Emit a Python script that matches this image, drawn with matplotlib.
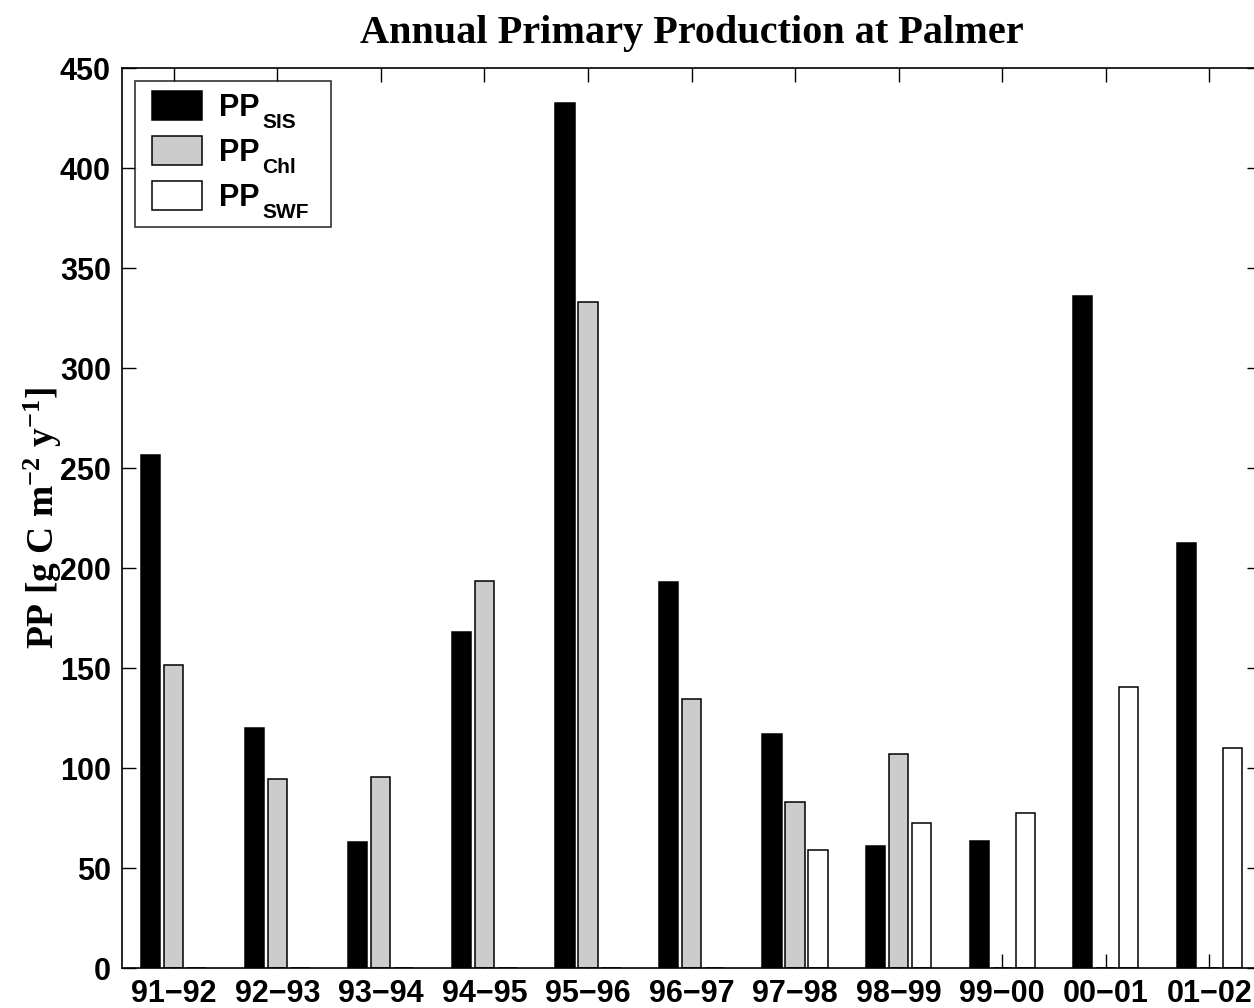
import matplotlib
matplotlib.use("Agg")
import matplotlib.pyplot as plt
from matplotlib.font_manager import FontProperties
from matplotlib.offsetbox import DrawingArea
from matplotlib.text import Text
import numpy as np

plt.rcParams['mathtext.fontset'] = 'custom'
plt.rcParams['mathtext.rm'] = 'Liberation Serif:bold'
plt.rcParams['mathtext.bf'] = 'Liberation Serif:bold'
plt.rcParams['mathtext.it'] = 'Liberation Serif:bold'

seasons = ["91\u221292", "92\u221293", "93\u221294", "94\u221295", "95\u221296", "96\u221297",
           "97\u221298", "98\u221299", "99\u221200", "00\u221201", "01\u221202"]
pp_sis = [256.7, 120, 62.8, 167.8, 432.7, 192.8, 116.8, 61, 63.5, 336, 212.3]
pp_chl = [151.5, 94.5, 95.5, 193.7, 332.8, 134.7, 83.2, 106.8, 0, 0, 0]
pp_swf = [0, 0, 0, 0, 0, 0, 59, 72.3, 77.7, 140.5, 110]
series_main = ["PP", "PP", "PP"]
series_sub = ["SIS", "Chl", "SWF"]
yticks = [0, 50, 100, 150, 200, 250, 300, 350, 400, 450]

W, H = 1254, 1008
fig = plt.figure(figsize=(W / 100, H / 100), dpi=100)
ax = fig.add_axes([122 / W, (H - 968) / H, (1261 - 122) / W, 900 / H])

x = np.arange(1, len(seasons) + 1)
off = 0.222
bw = 0.185
colors = ['black', '#cccccc', 'white']
for i, (vals, c, lab) in enumerate(zip([pp_sis, pp_chl, pp_swf], colors, series_main)):
    ax.bar(x + (i - 1) * off, vals, width=bw, color=c, edgecolor='black', linewidth=1.1,
           label=lab, zorder=2)

ax.set_xlim(0.5, len(seasons) + 0.5)
ax.set_ylim(0, 450)
ax.set_xticks(x)
ax.set_xticklabels(seasons)
ax.set_yticks(yticks)
ax.tick_params(direction='in', length=10, width=1, top=True, right=True, labelsize=22, pad=8)
for lab in ax.get_xticklabels() + ax.get_yticklabels():
    lab.set_fontfamily('Liberation Sans')
    lab.set_fontweight('bold')
for s in ax.spines.values():
    s.set_linewidth(1.2)

ax.set_title('Annual Primary Production at Palmer', fontfamily='Liberation Serif', fontweight='bold',
             fontsize=29, pad=18)
ax.set_ylabel(r'PP [g C m$^{-2}$ y$^{-1}$]', fontfamily='Liberation Serif', fontweight='bold',
              fontsize=27)
ax.yaxis.set_label_coords(-0.0505, 0.5)

leg_fs = 22
textpad = 0.55
leg_fp = FontProperties(family='Liberation Sans', weight='bold', size=leg_fs)
sub_fp = FontProperties(family='Liberation Sans', weight='bold', size=15)
leg = ax.legend(loc='upper left', prop=leg_fp, frameon=True, fancybox=False, edgecolor='black',
                handlelength=1.65, handleheight=1.08, borderpad=0.33, labelspacing=0.30,
                handletextpad=textpad, borderaxespad=0.42)
leg.get_frame().set_linewidth(1.2)

# subscripts attached to each legend entry (packed inside the legend box)
sep_pt = textpad * leg_fs
shift_pt = 5
items = [it for col in leg._legend_handle_box.get_children() for it in col.get_children()]
for item, sub in zip(items, series_sub):
    hbox = item.get_children()[0]
    hbox.width += shift_pt
    for a in hbox.get_children():
        if hasattr(a, 'set_x'):
            a.set_x(a.get_x() + shift_pt)
    da = DrawingArea(width=36 - sep_pt + 2 + 6, height=1, xdescent=0, ydescent=8, clip=False)
    st = Text(-sep_pt + 2, 2.0, sub, fontproperties=sub_fp, ha='left', va='top')
    st.set_figure(fig)
    da.add_artist(st)
    da.set_figure(fig)
    item.get_children().append(da)

fig.savefig('out.png', dpi=100)
